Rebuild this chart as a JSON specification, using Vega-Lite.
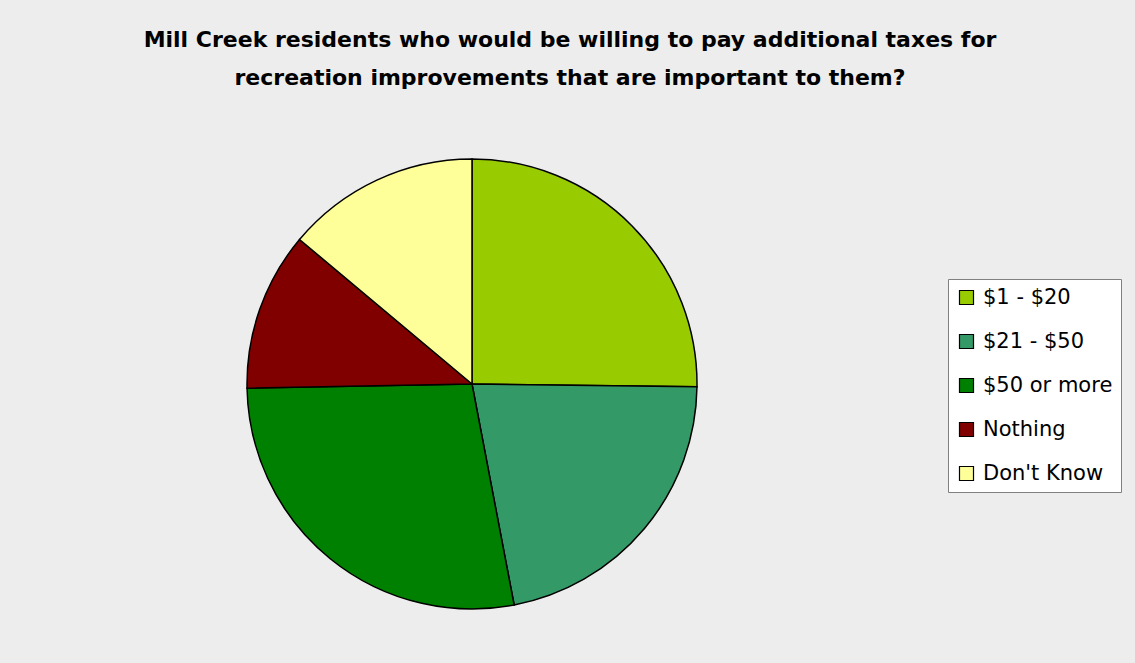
{
  "$schema": "https://vega.github.io/schema/vega-lite/v6.json",
  "width": 944,
  "height": 558,
  "autosize": {"type": "none"},
  "padding": {"top": 105, "left": 0, "right": 191, "bottom": 0},
  "background": "#EDEDED",
  "title": {
    "text": ["Mill Creek residents who would be willing to pay additional taxes for", "recreation improvements that are important to them?"],
    "anchor": "middle",
    "frame": "group",
    "dx": 98,
    "offset": 15,
    "font": "DejaVu Sans",
    "fontSize": 22,
    "fontWeight": "bold",
    "color": "black",
    "lineHeight": 38
  },
  "config": {"view": {"stroke": null}},
  "data": {
    "values": [
      {"answer": "$1 - $20", "pct": 25.2, "idx": 1},
      {"answer": "$21 - $50", "pct": 21.8, "idx": 2},
      {"answer": "$50 or more", "pct": 27.7, "idx": 3},
      {"answer": "Nothing", "pct": 11.4, "idx": 4},
      {"answer": "Don't Know", "pct": 13.9, "idx": 5}
    ]
  },
  "mark": {"type": "arc", "outerRadius": 225, "stroke": "black", "strokeWidth": 1.5},
  "encoding": {
    "theta": {"field": "pct", "type": "quantitative", "stack": true},
    "order": {"field": "idx", "type": "quantitative"},
    "color": {
      "field": "answer",
      "type": "nominal",
      "scale": {
        "domain": ["$1 - $20", "$21 - $50", "$50 or more", "Nothing", "Don't Know"],
        "range": ["#99CC00", "#339966", "#008000", "#800000", "#FFFF99"]
      },
      "legend": {
        "title": null,
        "orient": "none",
        "legendX": 948,
        "legendY": 174,
        "fillColor": "white",
        "strokeColor": "#808080",
        "padding": 8,
        "symbolType": "square",
        "symbolSize": 196,
        "symbolStrokeColor": "black",
        "symbolStrokeWidth": 1.2,
        "symbolOpacity": 1,
        "labelFont": "DejaVu Sans",
        "labelFontSize": 21,
        "labelColor": "black",
        "labelLimit": 300,
        "labelOffset": 6,
        "rowPadding": 22
      }
    }
  }
}
